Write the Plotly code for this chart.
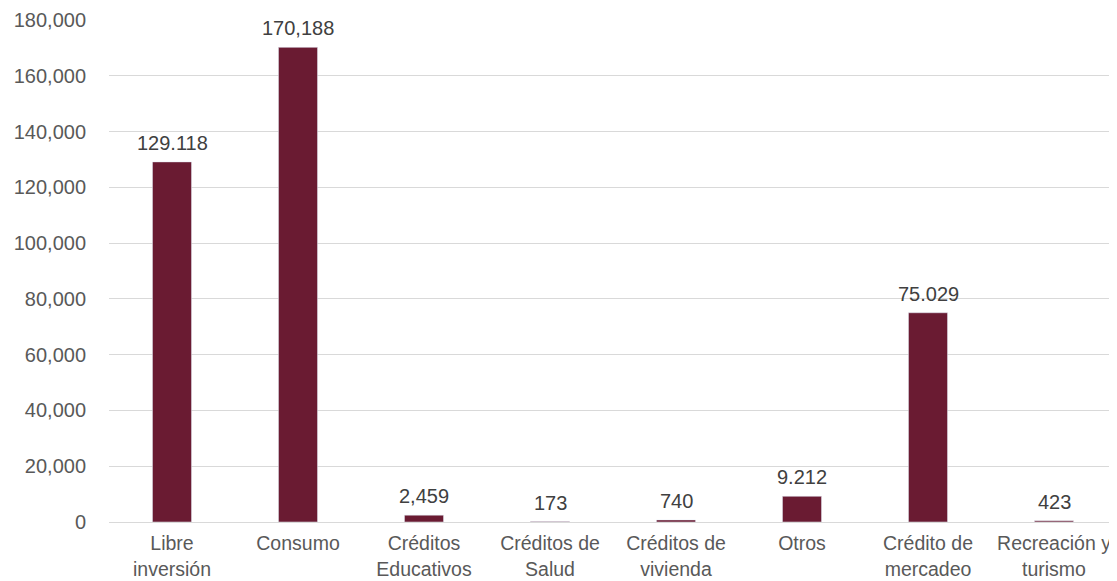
import plotly.graph_objects as go

categories = ["Libre<br>inversión", "Consumo", "Créditos<br>Educativos", "Créditos de<br>Salud",
              "Créditos de<br>vivienda", "Otros", "Crédito de<br>mercadeo", "Recreación y<br>turismo"]
values = [129118, 170188, 2459, 173, 740, 9212, 75029, 423]
value_labels = ["129.118", "170,188", "2,459", "173", "740", "9.212", "75.029", "423"]
y_ticks = [0, 20000, 40000, 60000, 80000, 100000, 120000, 140000, 160000, 180000]

FONT = "Liberation Sans, Arial, sans-serif"

fig = go.Figure(go.Bar(
    x=categories, y=values,
    marker=dict(color="#6a1b32"), width=0.31, cliponaxis=False,
))
for c, v, t in zip(categories, values, value_labels):
    fig.add_annotation(x=c, y=v, text=t, showarrow=False, yanchor="bottom", yshift=6,
                       font=dict(family=FONT, size=20, color="#404040"))
fig.update_layout(
    width=1109, height=573,
    margin=dict(l=101, r=0, t=12, b=59, autoexpand=False),
    paper_bgcolor="white", plot_bgcolor="white",
    font=dict(family=FONT, size=20, color="#595959"),
    showlegend=False,
    xaxis=dict(showline=True, linecolor="#d9d9d9", linewidth=1, ticks="",
               automargin=False, ticklabelstandoff=4,
               tickfont=dict(size=19.5, color="#595959")),
    yaxis=dict(range=[0, 180000], tickvals=y_ticks, tickformat=",", showgrid=True,
               gridcolor="#d9d9d9", gridwidth=1, zeroline=False, ticks="",
               automargin=False,
               ticklabelstandoff=22, tickfont=dict(size=20, color="#595959")),
)
fig.write_html("out.html")
